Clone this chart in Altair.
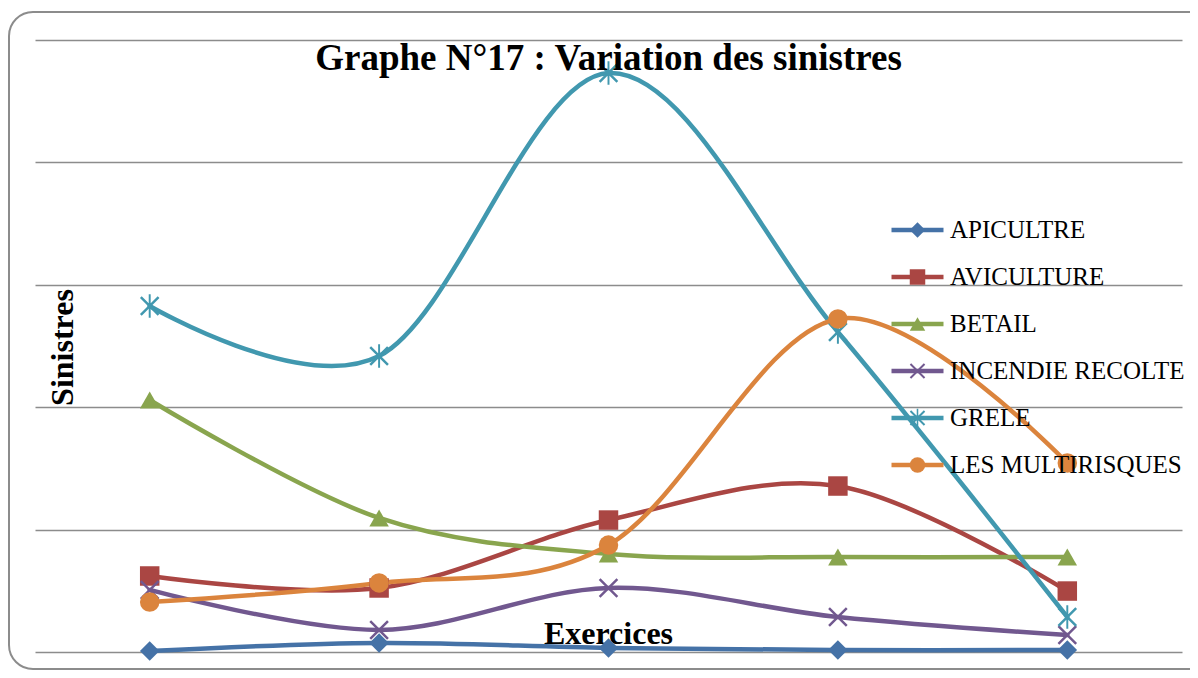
import altair as alt
import pandas as pd

# ---------------- data ----------------
exercices = ["2009", "2010", "2011", "2012", "2013"]
series = ["APICULTRE", "AVICULTURE", "BETAIL", "INCENDIE RECOLTE", "GRELE", "LES MULTIRISQUES"]
apiculture = [8, 74, 33, 16, 16]
aviculture = [621, 523, 1078, 1356, 498]
betail = [2059, 1095, 801, 776, 776]
incendie = [507, 180, 523, 286, 139]
grele = [2827, 2418, 4730, 2614, 286]
multirisques = [408, 564, 874, 2721, 1544]
y_ticks = [0, 1000, 2000, 3000, 4000, 5000]

colors = ["#4572A7", "#AA4643", "#89A54E", "#71588F", "#4198AF", "#DB843D"]

X_PATH = ("M-1,-0.82L-0.82,-1L0,-0.18L0.82,-1L1,-0.82L0.18,0L1,0.82L0.82,1"
          "L0,0.18L-0.82,1L-1,0.82L-0.18,0Z")
ASTER_PATH = X_PATH + "M-0.1,-1.2L0.1,-1.2L0.1,1.2L-0.1,1.2Z"
shapes = ["diamond", "square", "triangle-up", X_PATH, ASTER_PATH, "circle"]

values = [apiculture, aviculture, betail, incendie, grele, multirisques]
rows = []
for s, vals in zip(series, values):
    for e, v in zip(exercices, vals):
        rows.append({"exercice": e, "valeur": v, "serie": s, "serie_l": s})
df = pd.DataFrame(rows)

SERIF = "Liberation Serif"
GRID = "#8c8c8c"

x_enc = alt.X(
    "exercice:O",
    sort=exercices,
    scale=alt.Scale(type="point", padding=0.5),
    axis=alt.Axis(
        labels=False, ticks=False, domain=False, grid=False,
        title="Exercices", titleFont=SERIF, titleFontSize=32,
        titleFontWeight="bold", titleColor="black",
        titleX=573, titleY=-9, titleAlign="center", titleBaseline="alphabetic",
    ),
)
y_enc = alt.Y(
    "valeur:Q",
    scale=alt.Scale(domain=[0, 5000], nice=False),
    axis=alt.Axis(
        values=y_ticks, labels=False, ticks=False, domain=False, grid=True,
        gridColor=GRID, gridWidth=1.6,
        title="Sinistres", titleFont=SERIF, titleFontSize=32,
        titleFontWeight="bold", titleColor="black",
        titleX=37, titleY=307, titleAngle=270, titleAlign="center",
        titleBaseline="alphabetic",
    ),
)

LEG_X = 854
LEG_Y = 178

line_legend = alt.Legend(
    title=None, orient="none", legendX=LEG_X, legendY=LEG_Y,
    symbolType="stroke", symbolSize=2704, symbolStrokeWidth=4.5,
    labelFont=SERIF, labelFontSize=25, labelColor="black", labelOffset=4,
    labelLimit=500, clipHeight=24, rowPadding=22, padding=0,
)
marker_legend = alt.Legend(
    title=None, orient="none", legendX=LEG_X, legendY=LEG_Y,
    symbolSize=240, symbolOffset=16, symbolStrokeWidth=0,
    labelFont=SERIF, labelFontSize=25, labelExpr="''", labelLimit=500,
    clipHeight=24, rowPadding=22, padding=0,
)

base = alt.Chart(df)

lines = base.mark_line(interpolate="cardinal", strokeWidth=4.5, strokeCap="round").encode(
    x=x_enc,
    y=y_enc,
    stroke=alt.Stroke("serie_l:N", sort=series, scale=alt.Scale(range=colors), legend=line_legend),
)

points = base.mark_point(filled=True, size=380, opacity=1).encode(
    x=x_enc,
    y=y_enc,
    color=alt.Color("serie:N", scale=alt.Scale(domain=series, range=colors), legend=marker_legend),
    shape=alt.Shape("serie:N", scale=alt.Scale(domain=series, range=shapes), legend=marker_legend),
)

frame = alt.Chart(pd.DataFrame({"f": [0]})).mark_rect(
    filled=False, stroke=GRID, strokeWidth=2, cornerRadius=24
).encode(
    x=alt.value(-26), x2=alt.value(1220), y=alt.value(-28), y2=alt.value(629)
)

chart = alt.layer(frame, lines, points).properties(
    width=1147,
    height=612,
    title=alt.TitleParams(
        "Graphe N°17 : Variation des sinistres",
        font=SERIF, fontSize=37, fontWeight="bold", color="black",
        anchor="middle", frame="group", baseline="alphabetic", offset=0, dy=96,
    ),
    autosize=alt.AutoSizeParams(type="none"),
    padding={"left": 27, "top": 32, "right": 8, "bottom": 18},
    background="white",
).configure_view(strokeWidth=0)

chart.save("out.html", embed_options={"renderer": "svg", "actions": False})
